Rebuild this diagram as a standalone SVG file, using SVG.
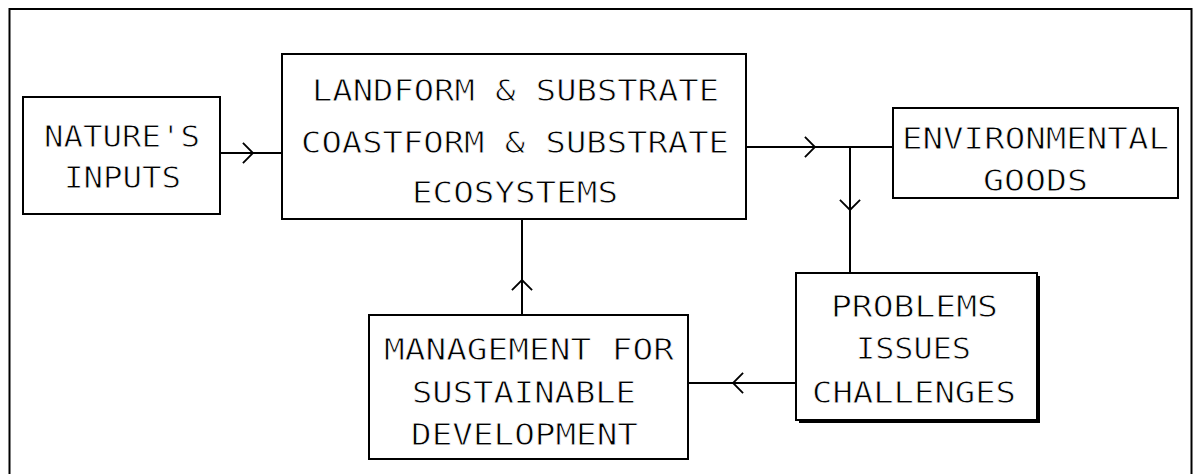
<svg xmlns="http://www.w3.org/2000/svg" width="1194" height="474" viewBox="0 0 1194 474">
  <style>
    .box { fill: #fff; stroke: #000; stroke-width: 2; }
    .frame { fill: none; stroke: #000; stroke-width: 2; }
    .wire { fill: none; stroke: #000; stroke-width: 2; marker-mid: url(#chev); }
    /* thin white outline lightens the monospace glyphs */
    .label { font-family: "DejaVu Sans Mono", "Liberation Mono", monospace; font-size: 31px; fill: #000; stroke: #fff; stroke-width: 0.8px; paint-order: normal; }
  </style>
  <defs>
    <!-- open chevron placed midway along each connector -->
    <marker id="chev" viewBox="0 0 13 24" refX="12" refY="12" markerWidth="12" markerHeight="22" markerUnits="userSpaceOnUse" orient="auto">
      <path d="M1,1 L12,12 L1,23" fill="none" stroke="#000" stroke-width="2"/>
    </marker>
  </defs>

  <rect width="1194" height="474" fill="#fff"/>

  <!-- page frame (open at the bottom) -->
  <path class="frame" d="M9.5,474 V9 H1191.5 V474"/>

  <g id="connectors">
    <path class="wire" d="M220,153 L253,153 L282,153"/>
    <path class="wire" d="M746,147 L815,147 L893,147"/>
    <path class="wire" d="M850,147 L850,210 L850,273"/>
    <path class="wire" d="M796,383 L733,383 L688,383"/>
    <path class="wire" d="M522,315 L522,280 L522,219"/>
  </g>

  <g id="natures-inputs">
    <rect class="box" x="23" y="97" width="197" height="117"/>
    <text class="label" x="44" y="147" textLength="156" lengthAdjust="spacingAndGlyphs">NATURE'S</text>
    <text class="label" x="64" y="188" textLength="117" lengthAdjust="spacingAndGlyphs">INPUTS</text>
  </g>

  <g id="landform-substrate">
    <rect class="box" x="282" y="54" width="464" height="165"/>
    <text class="label" x="312" y="101" textLength="407" lengthAdjust="spacingAndGlyphs">LANDFORM &amp; SUBSTRATE</text>
    <text class="label" x="301" y="153" textLength="428" lengthAdjust="spacingAndGlyphs">COASTFORM &amp; SUBSTRATE</text>
    <text class="label" x="412" y="203" textLength="206" lengthAdjust="spacingAndGlyphs">ECOSYSTEMS</text>
  </g>

  <g id="environmental-goods">
    <rect class="box" x="893" y="108" width="285" height="90"/>
    <text class="label" x="902" y="149" textLength="267" lengthAdjust="spacingAndGlyphs">ENVIRONMENTAL</text>
    <text class="label" x="983" y="191" textLength="105" lengthAdjust="spacingAndGlyphs">GOODS</text>
  </g>

  <g id="problems-issues">
    <rect x="799" y="276" width="241" height="147" fill="#000"/>
    <rect class="box" x="796" y="273" width="241" height="147"/>
    <text class="label" x="831" y="317" textLength="167" lengthAdjust="spacingAndGlyphs">PROBLEMS</text>
    <text class="label" x="856" y="359" textLength="115" lengthAdjust="spacingAndGlyphs">ISSUES</text>
    <text class="label" x="812" y="403" textLength="204" lengthAdjust="spacingAndGlyphs">CHALLENGES</text>
  </g>

  <g id="management">
    <rect class="box" x="369" y="315" width="319" height="144"/>
    <text class="label" x="384" y="360" textLength="290" lengthAdjust="spacingAndGlyphs">MANAGEMENT FOR</text>
    <text class="label" x="412" y="403" textLength="224" lengthAdjust="spacingAndGlyphs">SUSTAINABLE</text>
    <text class="label" x="411" y="445" textLength="227" lengthAdjust="spacingAndGlyphs">DEVELOPMENT</text>
  </g>
</svg>
